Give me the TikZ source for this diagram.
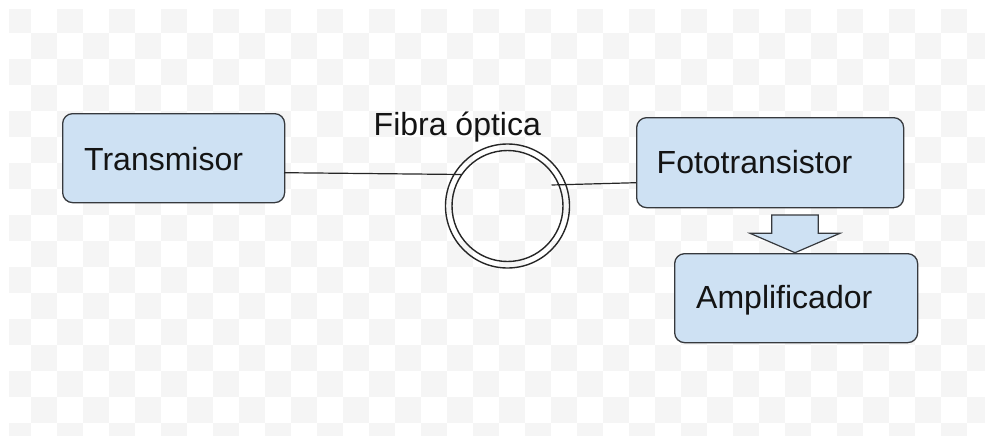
\documentclass[tikz,border=0pt]{standalone}
\usepackage{fontspec}
\setmainfont{Liberation Sans}
\definecolor{boxfill}{RGB}{206,225,243}
\definecolor{boxline}{RGB}{54,57,61}
\definecolor{checkgray}{RGB}{245,245,245}
\definecolor{txtcol}{RGB}{20,20,20}
\begin{document}
\begin{tikzpicture}[x=1pt,y=-1pt,
  box/.style={draw=boxline, fill=boxfill, line width=1.3pt, rounded corners=10pt, anchor=north west, inner sep=0pt},
  lbl/.style={anchor=base west, inner sep=0pt, text=txtcol, font=\fontsize{32}{38}\selectfont},
  wire/.style={draw=black!85, line width=1.2pt},
  ring/.style={circle, draw=black!85, line width=1.4pt, inner sep=0pt},
  blockarrow/.style={draw=boxline, fill=boxfill, line width=1.2pt, line join=miter}]
\useasboundingbox (0,0) rectangle (985,436);
% checkerboard background
\begin{scope}
\clip (9,10) rectangle (985,436);
\foreach \i in {0,...,37}{
  \foreach \j in {0,...,16}{
    \pgfmathtruncatemacro{\p}{mod(\i+\j,2)}
    \ifnum\p=0
      \fill[checkgray] ({5+26*\i},{7+26*\j}) rectangle ++(26,26);
    \fi
  }
}
\end{scope}
% boxes
\node[box, minimum width=222pt, minimum height=89pt] (tx) at (62,113) {};
\node[box, minimum width=267pt, minimum height=90pt] (ft) at (636,117) {};
\node[box, minimum width=243pt, minimum height=89pt] (amp) at (674,253) {};
% labels
\node[lbl] (txl) at (84,170) {Transmisor};
\node[lbl] (ftl) at (656.5,173.3) {Fototransistor};
\node[lbl] (ampl) at (696,308.3) {Amplificador};
\node[lbl] (fol) at (373.5,135) {Fibra óptica};
% optical fibre rings
\node[ring, minimum size=124pt] (fo) at (507.5,206) {};
\node[ring, minimum size=111pt] (fi) at (507.5,206) {};
% connectors
\coordinate (a1) at (284,172.7);
\coordinate (a2) at (461.7,174.5);
\coordinate (b1) at (551.5,185);
\coordinate (b2) at (636,182.7);
\draw[wire] (a1) -- (a2);
\draw[wire] (b1) -- (b2);
% block arrow from Fototransistor to Amplificador
\draw[blockarrow] (771.7,215) -- (818.3,215) -- (818.3,233.3) -- (840,233.3)
  -- (795,252.7) -- (750,233.3) -- (771.7,233.3) -- cycle;
\end{tikzpicture}
\end{document}
